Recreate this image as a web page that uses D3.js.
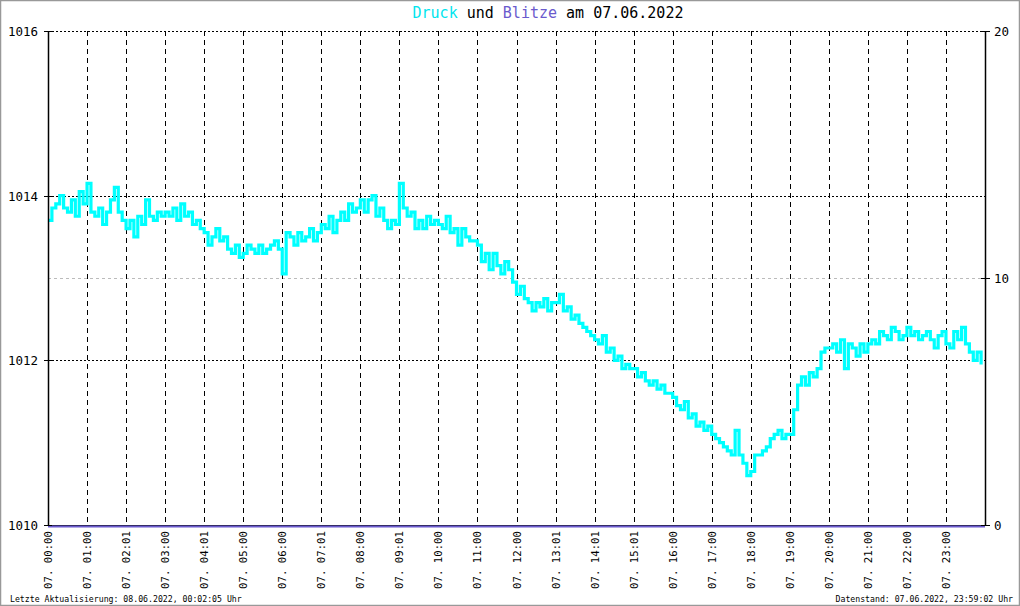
<!DOCTYPE html>
<html><head><meta charset="utf-8">
<script src="https://cdn.jsdelivr.net/npm/d3@7/dist/d3.min.js"></script>
<style>body{margin:0;background:#fff}svg{display:block}</style>
</head><body><svg id="c" width="1020" height="606"></svg>
<script>
const hourLabels = ["07. 00:00","07. 01:00","07. 02:01","07. 03:00","07. 04:01","07. 05:00","07. 06:00","07. 07:01","07. 08:00","07. 09:01","07. 10:00","07. 11:00","07. 12:00","07. 13:01","07. 14:01","07. 15:01","07. 16:00","07. 17:00","07. 18:00","07. 19:00","07. 20:00","07. 21:00","07. 22:00","07. 23:00"];
const leftTicks = [1010, 1012, 1014, 1016];
const rightTicks = [0, 10, 20];
// pressure (hPa), 10 readings per hour (every 6 minutes)
const druck = [
1013.7,1013.85,1013.9,1014.0,1013.85,1013.8,1013.95,1013.75,1014.05,1013.9,
1014.15,1013.8,1013.75,1013.85,1013.65,1013.8,1013.95,1014.1,1013.8,1013.7,
1013.6,1013.7,1013.5,1013.75,1013.65,1013.95,1013.75,1013.7,1013.8,1013.75,
1013.8,1013.75,1013.85,1013.7,1013.9,1013.75,1013.8,1013.65,1013.7,1013.6,
1013.55,1013.4,1013.5,1013.6,1013.45,1013.5,1013.35,1013.3,1013.4,1013.25,
1013.3,1013.4,1013.35,1013.3,1013.4,1013.3,1013.35,1013.4,1013.45,1013.35,
1013.05,1013.55,1013.5,1013.4,1013.55,1013.45,1013.5,1013.6,1013.45,1013.55,
1013.65,1013.6,1013.75,1013.55,1013.7,1013.8,1013.7,1013.9,1013.8,1013.85,
1013.95,1013.8,1013.95,1014.0,1013.75,1013.85,1013.7,1013.6,1013.7,1013.65,
1014.15,1013.85,1013.75,1013.8,1013.6,1013.7,1013.6,1013.75,1013.65,1013.7,
1013.65,1013.6,1013.75,1013.55,1013.6,1013.4,1013.6,1013.5,1013.45,1013.45,
1013.4,1013.2,1013.3,1013.1,1013.3,1013.15,1013.05,1013.2,1013.1,1012.95,
1012.8,1012.9,1012.75,1012.7,1012.6,1012.7,1012.65,1012.75,1012.6,1012.7,
1012.7,1012.8,1012.6,1012.65,1012.5,1012.55,1012.45,1012.4,1012.35,1012.3,
1012.25,1012.2,1012.3,1012.1,1012.15,1012.0,1012.05,1011.9,1011.95,1011.9,
1011.9,1011.8,1011.85,1011.75,1011.7,1011.75,1011.65,1011.7,1011.6,1011.6,
1011.55,1011.45,1011.4,1011.5,1011.3,1011.35,1011.2,1011.25,1011.15,1011.2,
1011.1,1011.05,1011.0,1010.95,1010.9,1010.85,1011.15,1010.85,1010.75,1010.6,
1010.65,1010.85,1010.85,1010.9,1010.95,1011.05,1011.1,1011.15,1011.05,1011.1,
1011.1,1011.4,1011.7,1011.8,1011.7,1011.85,1011.8,1011.9,1012.1,1012.15,
1012.15,1012.2,1012.1,1012.25,1011.9,1012.2,1012.15,1012.05,1012.2,1012.1,
1012.2,1012.25,1012.2,1012.35,1012.3,1012.25,1012.4,1012.35,1012.25,1012.3,
1012.4,1012.3,1012.35,1012.25,1012.3,1012.35,1012.25,1012.15,1012.3,1012.35,
1012.2,1012.15,1012.35,1012.25,1012.4,1012.2,1012.1,1012.0,1012.1,1011.95
];
// lightning count per hour
const blitze = [0,0,0,0,0,0,0,0,0,0,0,0,0,0,0,0,0,0,0,0,0,0,0,0,0];

const svg = d3.select("#c");
const mono = "'DejaVu Sans Mono', monospace";
const x = d3.scaleLinear().domain([0, 24]).range([48, 985]);
const y = d3.scaleLinear().domain([1010, 1016]).range([525, 31]);
const y2 = d3.scaleLinear().domain([0, 20]).range([525, 31]);

// border
svg.append("rect").attr("x",0.5).attr("y",0.5).attr("width",1019).attr("height",605)
  .attr("fill","none").attr("stroke","#999").attr("stroke-width",1.5);

// title
const t = svg.append("text").attr("x", 548).attr("y", 18).attr("text-anchor","middle")
  .style("font-family", mono).style("font-size","15px");
t.append("tspan").attr("fill","#00e5ee").text("Druck");
t.append("tspan").attr("fill","#000").text(" und ");
t.append("tspan").attr("fill","#6a5acd").text("Blitze");
t.append("tspan").attr("fill","#000").text(" am 07.06.2022");

// grid: right-axis 10 gray dashed
svg.append("line").attr("x1",x(0)).attr("x2",x(24)).attr("y1",y2(10)+0.5).attr("y2",y2(10)+0.5)
  .attr("stroke","#bbb").attr("stroke-dasharray","3,3");
// horizontal dotted
[1012,1014,1016].forEach(v=>{
  svg.append("line").attr("x1",x(0)).attr("x2",x(24)).attr("y1",Math.round(y(v))+0.5).attr("y2",Math.round(y(v))+0.5)
    .attr("stroke","#000").attr("stroke-dasharray","2,2");
});
// vertical dashed at hours
d3.range(1,24).forEach(h=>{
  const xx = Math.round(x(h))+0.5;
  svg.append("line").attr("x1",xx).attr("x2",xx).attr("y1",31).attr("y2",525)
    .attr("stroke","#000").attr("stroke-dasharray","5,4");
});

// pressure line
const line = d3.line().x((d,i)=>x(i/10)).y(d=>y(d)).curve(d3.curveStepAfter);
svg.append("path").datum(druck).attr("d", line).attr("fill","none")
  .attr("stroke","#00ffff").attr("stroke-width",3.2);

// axes
svg.append("line").attr("x1",48.5).attr("x2",48.5).attr("y1",31).attr("y2",526).attr("stroke","#000").attr("stroke-width",1.5);
svg.append("line").attr("x1",985.5).attr("x2",985.5).attr("y1",31).attr("y2",526).attr("stroke","#000").attr("stroke-width",1.5);
svg.append("line").attr("x1",48).attr("x2",986).attr("y1",525.5).attr("y2",525.5).attr("stroke","#000");
// blitze line (zero)
const bl = d3.line().x((d,i)=>x(i)).y(d=>y2(d)+1.5);
svg.append("path").datum(blitze).attr("d", bl).attr("fill","none").attr("stroke","#6a5acd").attr("stroke-width",2);

// left ticks
leftTicks.forEach(v=>{
  const yy = Math.round(y(v))+0.5;
  svg.append("line").attr("x1",44).attr("x2",52).attr("y1",yy).attr("y2",yy).attr("stroke","#000");
  svg.append("text").attr("x",38).attr("y",yy+4.5).attr("text-anchor","end")
    .style("font-family",mono).style("font-size","12.5px").text(v);
});
// right ticks
rightTicks.forEach(v=>{
  const yy = Math.round(y2(v))+0.5;
  svg.append("line").attr("x1",981).attr("x2",990).attr("y1",yy).attr("y2",yy).attr("stroke","#000");
  svg.append("text").attr("x",994).attr("y",yy+4.5).attr("text-anchor","start")
    .style("font-family",mono).style("font-size","12.5px").text(v);
});
// x labels
hourLabels.forEach((lab,h)=>{
  const xx = x(h)+4;
  svg.append("text").attr("transform",`translate(${xx},531) rotate(-90)`).attr("text-anchor","end")
    .style("font-family",mono).style("font-size","10.7px").text(lab);
});

// footer
svg.append("text").attr("x",10).attr("y",602).style("font-family",mono).style("font-size","8.2px").text("Letzte Aktualisierung: 08.06.2022, 00:02:05 Uhr");
svg.append("text").attr("x",1013).attr("y",602).attr("text-anchor","end").style("font-family",mono).style("font-size","8.2px").text("Datenstand: 07.06.2022, 23:59:02 Uhr");
</script></body></html>
